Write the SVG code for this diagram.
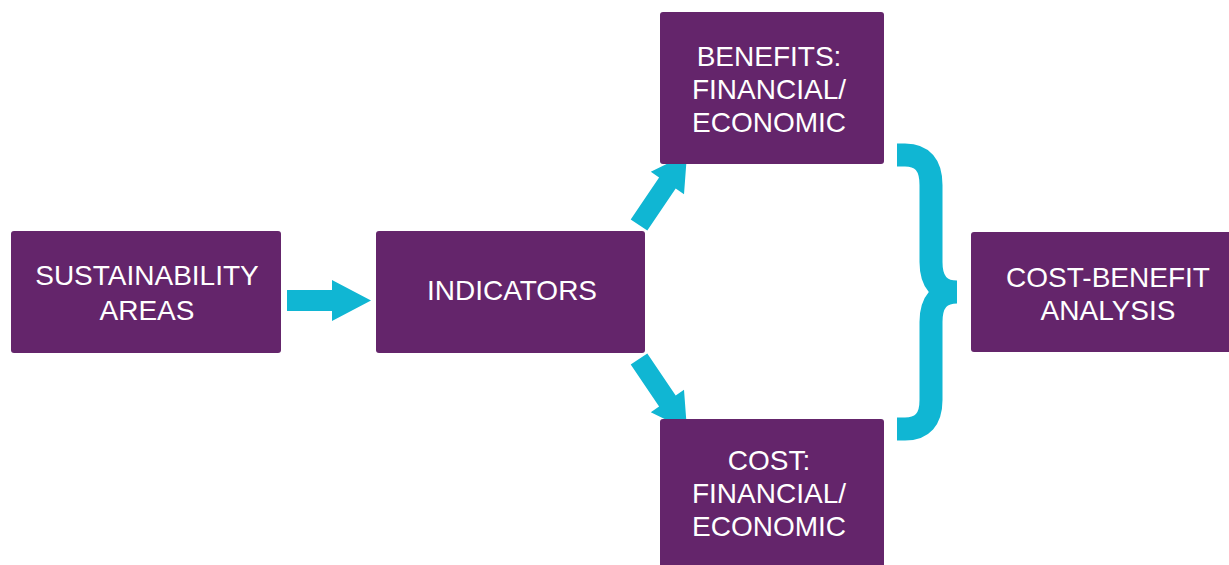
<svg xmlns="http://www.w3.org/2000/svg" width="1229" height="565" viewBox="0 0 1229 565">
<style>
.box{fill:#64256b;}
.lbl{font-family:"Liberation Sans",Arial,sans-serif;font-size:28px;fill:#ffffff;text-anchor:middle;}
.con{fill:#10b6d3;}
</style>
<rect width="1229" height="565" fill="#ffffff"/>
<g id="connectors">
<polygon class="con" points="287,290 332,290 332,280 371,300.5 332,321 332,311 287,311"/>
<polygon class="con" points="630.7,219.4 659.1,177.4 650.8,171.8 687,154 684,194.2 675.7,188.6 647.3,230.6"/>
<polygon class="con" points="630.7,364.6 659.1,406.6 650.8,412.2 687,430 684,389.8 675.7,395.4 647.3,353.4"/>
<path d="M897,155 L905,155 Q931,155 931,185 L931,262 Q931,292 957,292 Q931,292 931,322 L931,400 Q931,429 905,429 L897,429" fill="none" stroke="#10b6d3" stroke-width="23"/>
</g>
<g id="node-sustainability">
<rect class="box" x="11" y="231" width="270" height="122" rx="3"/>
<text class="lbl" x="147" y="285">SUSTAINABILITY</text>
<text class="lbl" x="147" y="320">AREAS</text>
</g>
<g id="node-indicators">
<rect class="box" x="376" y="231" width="269" height="122" rx="3"/>
<text class="lbl" x="512" y="300">INDICATORS</text>
</g>
<g id="node-benefits">
<rect class="box" x="660" y="12" width="224" height="152" rx="3"/>
<text class="lbl" x="769" y="66">BENEFITS:</text>
<text class="lbl" x="769" y="99">FINANCIAL/</text>
<text class="lbl" x="769" y="132">ECONOMIC</text>
</g>
<g id="node-cost">
<rect class="box" x="660" y="419" width="224" height="156" rx="3"/>
<text class="lbl" x="769" y="470">COST:</text>
<text class="lbl" x="769" y="503">FINANCIAL/</text>
<text class="lbl" x="769" y="536">ECONOMIC</text>
</g>
<g id="node-cba">
<rect class="box" x="971" y="232" width="268" height="120" rx="3"/>
<text class="lbl" x="1108" y="287">COST-BENEFIT</text>
<text class="lbl" x="1108" y="320">ANALYSIS</text>
</g>
</svg>
